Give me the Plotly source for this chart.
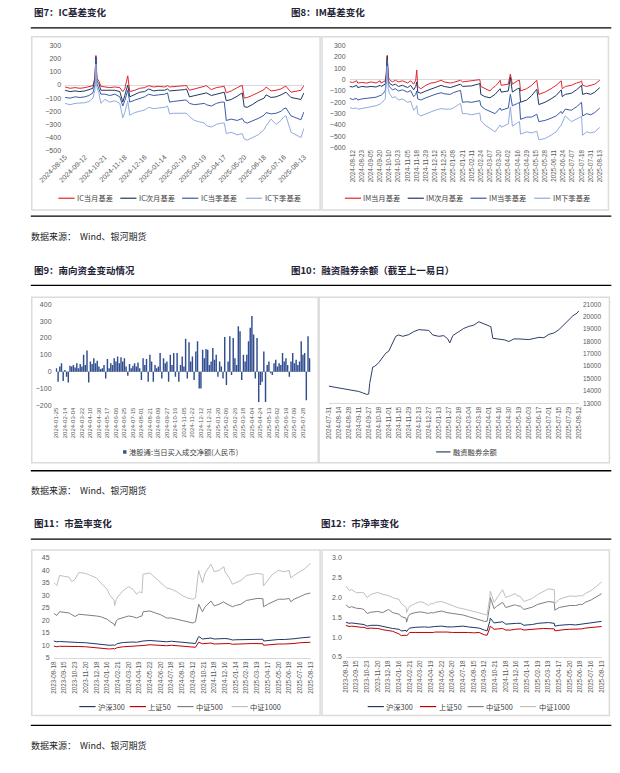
import plotly.graph_objects as go
import pandas as pd
import numpy as np

W, H = 620, 773
def px(x): return x / W
def py(y): return 1 - y / H

# ---------------- data ----------------
# Fig 7: IC basis
ic_dates = ["2024-08-15","2024-08-22","2024-08-29","2024-09-05","2024-09-12","2024-09-20","2024-09-26","2024-09-30","2024-10-08","2024-10-09",
            "2024-10-11","2024-10-15","2024-10-21","2024-10-28","2024-11-04","2024-11-11","2024-11-14","2024-11-18","2024-11-21","2024-11-25",
            "2024-12-02","2024-12-09","2024-12-16","2024-12-20","2024-12-27","2025-01-06","2025-01-14","2025-01-17","2025-01-21","2025-01-27",
            "2025-02-10","2025-02-19","2025-02-21","2025-02-26","2025-03-05","2025-03-12","2025-03-19","2025-03-21","2025-03-28","2025-04-07",
            "2025-04-14","2025-04-17","2025-04-21","2025-04-28","2025-05-09","2025-05-16","2025-05-20","2025-05-23","2025-05-30","2025-06-10",
            "2025-06-18","2025-06-20","2025-06-27","2025-07-04","2025-07-11","2025-07-16","2025-07-18","2025-07-25","2025-08-01","2025-08-08","2025-08-13"]
ic_cur = [-15,-25,-20,-25,-20,-10,-5,60,225,50,
          30,-10,-15,-20,-15,-20,-50,-30,70,-50,
          -40,-25,-20,-5,-15,-10,-15,-5,-15,-10,
          -10,-5,-5,-40,-30,-25,-10,-5,-35,-20,
          -15,-10,-60,-45,-20,-2,-100,-95,-80,-55,
          -35,-15,-45,-40,-30,-15,-10,-55,-45,-40,-5]
ic_next = [-40,-50,-45,-50,-45,-35,-25,40,215,30,
           10,-40,-40,-45,-40,-50,-130,-80,0,-90,
           -70,-55,-50,-30,-45,-40,-40,-30,-45,-40,
           -40,-35,-30,-90,-80,-75,-65,-60,-80,-70,
           -60,-55,-120,-110,-85,-60,-165,-170,-150,-120,
           -100,-75,-95,-90,-75,-60,-55,-95,-100,-110,-60]
ic_q1 = [-95,-100,-90,-95,-90,-80,-60,0,200,10,
         -30,-70,-70,-80,-70,-90,-160,-120,-40,-130,
         -115,-100,-90,-70,-80,-75,-70,-60,-130,-125,
         -120,-115,-115,-140,-150,-145,-140,-150,-160,-140,
         -130,-130,-270,-260,-270,-255,-280,-290,-275,-255,
         -230,-210,-220,-215,-200,-180,-175,-235,-250,-265,-205]
ic_q2 = [-140,-150,-140,-140,-135,-125,-100,-40,160,-20,
         -60,-140,-110,-130,-120,-140,-250,-210,-120,-230,
         -210,-200,-190,-170,-180,-175,-170,-160,-220,-215,
         -215,-210,-215,-240,-270,-280,-290,-310,-320,-300,
         -290,-290,-370,-360,-380,-370,-410,-420,-400,-380,
         -340,-310,-260,-300,-270,-240,-235,-360,-380,-400,-330]
ic_ticks = ["2024-08-15","2024-09-12","2024-10-21","2024-11-18","2024-12-16","2025-01-14","2025-02-19",
            "2025-03-19","2025-04-17","2025-05-20","2025-06-18","2025-07-16","2025-08-13"]
ic_names = ["IC当月基差","IC次月基差","IC当季基差","IC下季基差"]

# Fig 8: IM basis
im_dates = ["2024-08-07","2024-08-12","2024-08-16","2024-08-19","2024-08-23","2024-08-30","2024-09-05","2024-09-12","2024-09-20","2024-09-23",
            "2024-09-27","2024-09-30","2024-10-08","2024-10-09","2024-10-10","2024-10-15","2024-10-18","2024-10-23","2024-10-29","2024-11-05",
            "2024-11-08","2024-11-13","2024-11-15","2024-11-18","2024-11-19","2024-11-22","2024-11-29","2024-12-06","2024-12-12","2024-12-20",
            "2024-12-25","2025-01-03","2025-01-08","2025-01-15","2025-01-17","2025-01-21","2025-01-27","2025-02-11","2025-02-19","2025-02-21",
            "2025-02-24","2025-02-28","2025-03-07","2025-03-12","2025-03-14","2025-03-20","2025-03-21","2025-03-24","2025-04-02","2025-04-07",
            "2025-04-09","2025-04-16","2025-04-18","2025-04-21","2025-04-29","2025-05-09","2025-05-15","2025-05-16","2025-05-20","2025-05-28",
            "2025-06-06","2025-06-13","2025-06-20","2025-06-23","2025-06-26","2025-07-04","2025-07-11","2025-07-17","2025-07-18","2025-07-21",
            "2025-07-25","2025-07-31","2025-08-06","2025-08-13"]
im_cur = [-20,-25,-10,-30,-25,-30,-20,-30,-10,-30,
          -10,50,215,30,0,-20,-5,-20,-10,-30,
          -10,-40,-5,85,-60,-80,-50,-30,-25,-5,
          -20,-30,-25,-15,-5,-20,-15,-15,-5,0,
          -60,-80,-100,-70,-60,-20,-5,-50,-40,50,
          -40,-10,-5,-100,-80,-50,-15,-5,-130,-110,
          -80,-50,-10,-80,-60,-50,-30,-20,-10,-50,
          -60,-50,-40,-5]
im_next = [-60,-65,-50,-70,-60,-65,-60,-65,-50,-60,
           -40,30,205,0,-30,-50,-40,-60,-50,-70,
           -50,-90,-60,-20,-110,-120,-100,-80,-70,-50,
           -60,-70,-60,-45,-40,-60,-55,-55,-40,-35,
           -130,-150,-160,-140,-130,-90,-80,-110,-100,20,
           -110,-80,-75,-200,-180,-140,-90,-85,-220,-200,
           -170,-140,-90,-150,-130,-120,-90,-60,-50,-130,
           -120,-130,-110,-70]
im_q1 = [-165,-175,-165,-180,-170,-165,-160,-155,-140,-140,
         -100,-10,170,-30,-60,-90,-80,-100,-90,-110,
         -95,-150,-130,-100,-170,-180,-160,-140,-130,-115,
         -125,-130,-115,-100,-95,-200,-195,-200,-190,-185,
         -230,-260,-280,-290,-300,-260,-250,-270,-250,-130,
         -230,-210,-200,-350,-330,-330,-310,-305,-370,-360,
         -340,-320,-280,-300,-260,-270,-240,-210,-200,-320,
         -300,-310,-290,-250]
im_q2 = [-245,-255,-250,-260,-255,-245,-240,-230,-215,-210,
         -170,-60,120,-80,-120,-160,-150,-180,-170,-200,
         -190,-270,-250,-230,-300,-320,-300,-280,-270,-255,
         -260,-260,-250,-220,-210,-300,-300,-310,-300,-295,
         -360,-400,-430,-450,-460,-410,-400,-420,-390,-240,
         -410,-380,-370,-480,-460,-470,-460,-455,-530,-520,
         -490,-460,-400,-380,-320,-370,-350,-330,-320,-490,
         -460,-470,-460,-420]
im_ticks = ["2024-08-12","2024-08-23","2024-09-05","2024-09-20","2024-10-10","2024-10-23","2024-11-05","2024-11-18",
            "2024-11-29","2024-12-12","2024-12-25","2025-01-08","2025-01-21","2025-02-11","2025-02-24","2025-03-07",
            "2025-03-20","2025-04-02","2025-04-16","2025-04-29","2025-05-15","2025-05-28","2025-06-11","2025-06-24",
            "2025-07-07","2025-07-18","2025-07-31","2025-08-13"]
im_names = ["IM当月基差","IM次月基差","IM当季基差","IM下季基差"]

# Fig 9: southbound net buy (亿元)
south_vals = [20,-60,30,50,-55,10,-30,-65,35,30,
              40,25,50,20,45,30,100,40,125,-65,
              60,45,80,50,65,30,15,20,40,-40,
              75,20,50,40,80,60,90,50,85,60,
              80,30,-25,45,20,35,50,30,55,20,
              -50,80,40,75,-60,100,60,-60,40,20,
              30,110,-40,80,50,60,-60,100,40,110,
              -30,110,-60,40,90,30,195,-40,175,60,
              90,-50,120,180,-100,-100,130,80,135,130,
              40,60,140,70,100,-30,60,30,-40,205,
              -80,60,210,-20,200,80,40,270,240,-50,
              100,60,100,180,260,330,220,-40,200,-180,
              -80,-60,120,-180,40,60,-10,-20,50,70,
              30,50,40,110,60,80,40,-30,60,110,
              50,70,40,60,180,100,110,-170,210,80]
_bd = pd.bdate_range("2024-01-25", "2025-08-12")
south_dates = [d.strftime("%Y-%m-%d") for d in _bd[np.linspace(0, len(_bd) - 1, len(south_vals)).round().astype(int)]]
south_name = "港股通:当日买入成交净额(人民币)"

# Fig 10: margin balance (亿元)
margin_dates = ["2024-07-31","2024-08-14","2024-08-28","2024-09-11","2024-09-19","2024-09-25","2024-09-27","2024-09-30","2024-10-10","2024-10-14",
                "2024-10-18","2024-10-24","2024-10-29","2024-11-01","2024-11-06","2024-11-12","2024-11-15","2024-11-21","2024-11-29","2024-12-06",
                "2024-12-13","2024-12-20","2024-12-27","2025-01-03","2025-01-13","2025-01-20","2025-01-24","2025-02-05","2025-02-10","2025-02-18",
                "2025-02-25","2025-03-04","2025-03-11","2025-03-18","2025-03-25","2025-04-01","2025-04-03","2025-04-08","2025-04-16","2025-04-24",
                "2025-04-30","2025-05-12","2025-05-19","2025-05-26","2025-06-03","2025-06-11","2025-06-17","2025-06-24","2025-07-01","2025-07-08",
                "2025-07-15","2025-07-21","2025-07-29","2025-08-04","2025-08-08","2025-08-12"]
margin_vals = [14390,14250,14090,13960,13850,13720,13750,14600,15930,15990,
               16280,16730,17050,17210,17670,18410,18520,18410,18550,18790,
               18950,18950,18890,18520,18410,18470,18200,17880,18470,18790,
               19050,19210,19320,19590,19400,19270,19190,18250,18200,18120,
               17990,18200,18200,18150,18150,18250,18330,18300,18570,18680,
               18950,19270,19800,20070,20280,20470]
margin_ticks = ["2024-07-31","2024-08-14","2024-08-28","2024-09-11","2024-09-27","2024-10-18","2024-11-01","2024-11-15",
                "2024-11-29","2024-12-13","2024-12-27","2025-01-13","2025-01-27","2025-02-18","2025-03-04","2025-03-18",
                "2025-04-01","2025-04-16","2025-04-30","2025-05-19","2025-06-03","2025-06-17","2025-07-01","2025-07-15",
                "2025-07-29","2025-08-12"]
margin_name = "融资融券余额"

# Fig 11 / 12: PE and PB
val_dates = ["2023-08-18","2023-08-28","2023-09-04","2023-09-15","2023-09-28","2023-10-13","2023-10-23","2023-11-01","2023-11-20","2023-12-01",
             "2023-12-18","2023-12-28","2024-01-16","2024-01-22","2024-02-02","2024-02-05","2024-02-08","2024-02-21","2024-03-06","2024-03-20",
             "2024-04-01","2024-04-12","2024-04-19","2024-04-26","2024-04-30","2024-05-22","2024-06-05","2024-06-20","2024-07-05","2024-07-18",
             "2024-08-01","2024-08-15","2024-08-29","2024-09-12","2024-09-23","2024-09-30","2024-10-08","2024-10-17","2024-10-24","2024-11-08",
             "2024-11-18","2024-11-29","2024-12-12","2024-12-16","2024-12-26","2025-01-06","2025-01-14","2025-02-05","2025-02-19","2025-03-06",
             "2025-03-19","2025-04-03","2025-04-07","2025-04-17","2025-04-30","2025-05-20","2025-06-05","2025-06-18","2025-06-23","2025-07-01",
             "2025-07-16","2025-07-30","2025-08-13"]
pe_hs300 = [11.8,11.5,11.6,11.5,11.4,11.2,11.0,11.2,11.1,10.9,
            10.6,10.6,10.4,10.1,10.2,10.0,10.5,10.8,11.2,11.4,
            11.4,11.3,11.5,11.6,11.8,12.0,11.8,11.7,11.5,11.7,
            11.5,11.3,11.2,10.9,10.8,13.2,13.6,12.6,12.8,13.0,
            12.6,12.7,12.9,12.8,12.6,12.2,12.3,12.3,12.5,12.6,
            12.6,12.5,11.8,12.0,12.3,12.4,12.4,12.5,12.4,12.7,
            13.0,13.2,13.4]
pe_sz50 = [9.8,9.5,9.7,9.6,9.6,9.5,9.4,9.6,9.5,9.3,
           9.0,9.0,8.8,8.6,8.8,8.6,9.0,9.2,9.5,9.6,
           9.6,9.6,9.8,9.9,10.0,10.3,10.1,10.0,9.9,10.1,
           9.9,9.8,9.7,9.4,9.3,11.0,11.3,10.7,10.8,11.0,
           10.6,10.7,10.9,10.8,10.8,10.5,10.6,10.5,10.7,10.8,
           10.8,10.7,10.1,10.3,10.5,10.6,10.6,10.7,10.6,10.8,
           11.1,11.2,11.3]
pe_zz500 = [22.9,22.0,23.5,23.2,23.0,22.3,21.6,22.5,22.3,22.0,
            21.8,21.5,20.5,19.8,18.5,17.8,19.8,20.5,21.2,21.8,
            21.5,21.0,21.5,21.8,23.5,23.8,23.0,22.3,21.0,21.0,
            20.5,20.0,19.5,19.0,19.5,25.5,26.5,23.5,25.5,27.8,
            25.8,26.5,27.5,27.0,26.0,25.5,26.0,26.5,28.0,28.5,
            28.8,28.7,25.5,26.5,27.5,28.5,28.5,28.8,27.5,28.5,
            29.5,30.5,31.0]
pe_zz1000 = [35.3,34.0,38.0,37.5,37.3,35.5,36.5,39.2,38.8,38.0,
             37.0,35.0,32.5,30.5,28.0,26.0,28.5,29.5,32.0,33.5,
             32.5,30.5,31.5,31.0,38.5,39.0,37.0,35.0,33.0,32.5,
             31.5,30.0,29.0,28.5,29.0,38.5,40.0,35.0,39.0,42.5,
             39.5,40.0,41.5,39.5,37.0,34.5,35.0,36.0,38.0,38.5,
             38.8,38.5,33.8,36.0,38.5,40.0,39.5,40.0,37.0,38.0,
             39.5,40.8,43.0]
pb_hs300 = [1.38,1.35,1.36,1.34,1.33,1.32,1.28,1.30,1.30,1.27,
            1.23,1.22,1.20,1.16,1.17,1.14,1.20,1.23,1.25,1.26,
            1.26,1.25,1.26,1.26,1.27,1.28,1.26,1.26,1.27,1.28,
            1.26,1.24,1.23,1.18,1.16,1.40,1.48,1.36,1.37,1.39,
            1.33,1.34,1.36,1.35,1.35,1.30,1.31,1.32,1.35,1.36,
            1.37,1.35,1.28,1.30,1.31,1.32,1.31,1.33,1.33,1.35,
            1.37,1.39,1.40]
pb_sz50 = [1.30,1.27,1.28,1.26,1.25,1.25,1.22,1.23,1.22,1.19,
           1.16,1.15,1.08,1.04,1.05,1.03,1.08,1.12,1.12,1.12,
           1.12,1.11,1.12,1.12,1.13,1.14,1.13,1.12,1.12,1.13,
           1.12,1.11,1.12,1.06,1.05,1.23,1.28,1.20,1.21,1.22,
           1.18,1.18,1.20,1.20,1.21,1.18,1.19,1.20,1.21,1.22,
           1.22,1.21,1.16,1.18,1.19,1.20,1.20,1.21,1.21,1.23,
           1.24,1.25,1.27]
pb_zz500 = [1.82,1.75,1.77,1.73,1.72,1.70,1.60,1.63,1.65,1.62,
            1.70,1.62,1.58,1.52,1.48,1.38,1.52,1.58,1.62,1.64,
            1.62,1.60,1.62,1.61,1.63,1.66,1.62,1.60,1.56,1.56,
            1.52,1.48,1.45,1.40,1.40,1.80,2.00,1.72,1.78,1.88,
            1.75,1.78,1.82,1.80,1.78,1.70,1.72,1.76,1.83,1.86,
            1.90,1.88,1.68,1.75,1.78,1.80,1.80,1.83,1.82,1.88,
            1.94,2.02,2.10]
pb_zz1000 = [2.30,2.18,2.20,2.12,2.13,2.12,2.00,2.08,2.13,2.08,
             2.05,2.00,1.95,1.85,1.75,1.62,1.72,1.78,1.85,1.90,
             1.86,1.80,1.85,1.84,1.88,1.90,1.85,1.80,1.74,1.72,
             1.68,1.65,1.62,1.57,1.56,2.00,2.16,1.88,1.98,2.20,
             2.00,2.05,2.10,2.06,2.02,1.90,1.93,1.98,2.08,2.15,
             2.22,2.20,1.85,1.95,2.00,2.04,2.03,2.05,2.04,2.10,
             2.18,2.28,2.40]
val_ticks = ["2023-08-18","2023-09-15","2023-10-23","2023-11-20","2023-12-18","2024-01-16","2024-02-21","2024-03-20",
             "2024-04-19","2024-05-22","2024-06-20","2024-07-18","2024-08-15","2024-09-12","2024-10-21","2024-11-18",
             "2024-12-16","2025-01-14","2025-02-19","2025-03-19","2025-04-17","2025-05-20","2025-06-18","2025-07-16","2025-08-13"]
val_names = ["沪深300","上证50","中证500","中证1000"]

# exchange holidays (weekdays without trading) for the trading-day axes
holidays = ["2023-09-29","2023-10-02","2023-10-03","2023-10-04","2023-10-05","2023-10-06",
            "2024-01-01","2024-02-09","2024-02-12","2024-02-13","2024-02-14","2024-02-15","2024-02-16",
            "2024-04-04","2024-04-05","2024-05-01","2024-05-02","2024-05-03","2024-06-10",
            "2024-09-16","2024-09-17","2024-10-01","2024-10-02","2024-10-03","2024-10-04","2024-10-07",
            "2025-01-01","2025-01-28","2025-01-29","2025-01-30","2025-01-31","2025-02-03","2025-02-04",
            "2025-04-04","2025-05-01","2025-05-02","2025-05-05","2025-06-02"]

# ---------------- styles ----------------
basis_colors = ["#E3262E", "#1F3864", "#3A5CA6", "#90ABDD"]
val_colors = ["#1F3864", "#C00000", "#7F7F7F", "#BFBFBF"]
bar_color = "#2F4D8F"
margin_color = "#2E3E6B"
TICK = dict(family="Liberation Sans, Arial, sans-serif", size=7, color="#595959")
CJK = "Noto Sans CJK SC, Liberation Sans, sans-serif"
rb = [dict(bounds=["sat", "mon"]), dict(values=holidays)]

fig = go.Figure()

def add_lines(dates, series, names, colors, ax):
    for vals, nm, c in zip(series, names, colors):
        fig.add_trace(go.Scatter(x=dates, y=vals, name=nm, mode="lines",
                                 line=dict(color=c, width=1), xaxis="x" + ax, yaxis="y" + ax,
                                 showlegend=False, hoverinfo="skip"))

add_lines(ic_dates, [ic_cur, ic_next, ic_q1, ic_q2], ic_names, basis_colors, "")
add_lines(im_dates, [im_cur, im_next, im_q1, im_q2], im_names, basis_colors, "2")
fig.add_trace(go.Bar(x=south_dates, y=south_vals, name=south_name, marker=dict(color=bar_color, line=dict(width=0)),
                     xaxis="x3", yaxis="y3", showlegend=False, hoverinfo="skip"))
add_lines(margin_dates, [margin_vals], [margin_name], [margin_color], "4")
add_lines(val_dates, [pe_hs300, pe_sz50, pe_zz500, pe_zz1000], val_names, val_colors, "5")
add_lines(val_dates, [pb_hs300, pb_sz50, pb_zz500, pb_zz1000], val_names, val_colors, "6")

def xdate(x0, x1, y_anchor, rng, ticks, angle, size=7, line=False):
    return dict(domain=[px(x0), px(x1)], anchor=y_anchor, type="date", range=rng, rangebreaks=rb,
                tickmode="array", tickvals=ticks, ticktext=ticks, tickangle=angle,
                tickfont=dict(TICK, size=size), showgrid=False, zeroline=False,
                showline=line, linecolor="#D9D9D9", linewidth=1, ticks="", fixedrange=True)

def yax(y0, y1, x_anchor, rng, dtick, zero=False, side="left", fmt=None, size=7):
    d = dict(domain=[py(y1), py(y0)], anchor=x_anchor, range=rng, dtick=dtick, side=side,
             tickfont=dict(TICK, size=size), showgrid=False, zeroline=zero, zerolinecolor="#D9D9D9",
             zerolinewidth=1, showline=False, ticks="", ticklabelstandoff=3, fixedrange=True)
    if fmt:
        d["tickformat"] = fmt
    return d

fig.update_layout(
    width=W, height=H, margin=dict(l=0, r=0, t=0, b=0),
    paper_bgcolor="white", plot_bgcolor="white", showlegend=False, bargap=0.15,
    xaxis=xdate(40, 291, "y", ["2024-08-15", "2025-08-13"], ic_ticks, -45, 7),
    yaxis=yax(42, 148, "x", [-500, 300], 100, zero=True),
    xaxis2=xdate(339, 602, "y2", ["2024-08-07", "2025-08-13"], im_ticks, -90, 6.3),
    yaxis2=yax(42, 145, "x2", [-600, 300], 100, zero=True),
    xaxis3=dict(domain=[px(30), px(298)], anchor="y3", type="category", tickmode="array",
                tickvals=south_dates[::5], tickangle=-90, tickfont=dict(TICK, size=6),
                showgrid=False, showline=False, ticks="", fixedrange=True),
    yaxis3=yax(303, 405, "x3", [-200, 400], 100, zero=True),
    xaxis4=xdate(317, 580, "y4", ["2024-07-31", "2025-08-12"], margin_ticks, -90, 6.3, line=True),
    yaxis4=yax(303, 403, "x4", [13000, 21000], 1000, side="right", fmt="d", size=6.5),
    xaxis5=xdate(28, 298, "y5", ["2023-08-18", "2025-08-13"], val_ticks, -90, 6.3, line=True),
    yaxis5=yax(559, 660, "x5", [5, 45], 5),
    xaxis6=xdate(335, 604, "y6", ["2023-08-18", "2025-08-13"], val_ticks, -90, 6.3, line=True),
    yaxis6=yax(559, 659, "x6", [0.5, 3.0], 0.5, fmt=".1f"),
)

shapes = []
annotations = []

def hline(x0, x1, y, color="black", width=1.3):
    shapes.append(dict(type="line", xref="paper", yref="paper", x0=px(x0), x1=px(x1), y0=py(y), y1=py(y),
                       line=dict(color=color, width=width)))

def box(x0, y0, x1, y1):
    shapes.append(dict(type="rect", xref="paper", yref="paper", x0=px(x0), x1=px(x1), y0=py(y1), y1=py(y0),
                       line=dict(color="#DCDCDC", width=1.5), layer="below"))

def text(x, y, s, size=9, bold=False, color="#1E2235", anchor="left", family=CJK):
    annotations.append(dict(xref="paper", yref="paper", x=px(x), y=py(y), text=("<b>%s</b>" % s) if bold else s,
                            showarrow=False, xanchor=anchor, yanchor="middle",
                            font=dict(family=family, size=size, color=color)))

def legend_lines(xs, y, names, colors, seg=17):
    for x0, nm, c in zip(xs, names, colors):
        shapes.append(dict(type="line", xref="paper", yref="paper", x0=px(x0), x1=px(x0 + seg), y0=py(y), y1=py(y),
                           line=dict(color=c, width=1.2)))
        text(x0 + seg + 0.5, y, nm, size=7.3, color="#404040")

# titles, rules and sources
text(5, 8.5, "图7：IC基差变化", size=9.5, bold=True)
text(275, 8.5, "图8：IM基差变化", size=9.5, bold=True)
text(5, 268, "图9：南向资金变动情况", size=9.5, bold=True)
text(275, 268, "图10：融资融券余额（截至上一易日）", size=9.5, bold=True)
text(5, 524, "图11：市盈率变化", size=9.5, bold=True)
text(307, 524, "图12：市净率变化", size=9.5, bold=True)
for y in (24, 214, 284, 471, 540, 728):
    hline(4, 614, y)
for y in (235, 491, 748):
    text(2, y, "数据来源：  Wind、银河期货", size=9, color="#222222")

# chart frames
box(5, 33, 308, 208)
box(310, 33, 611, 208)
box(5, 296, 306, 463)
box(307, 296, 612, 463)
box(5, 551, 308, 718)
box(310, 551, 612, 718)

# legends
legend_lines([33, 98, 163, 230], 196, ic_names, basis_colors)
legend_lines([334, 400, 466, 533], 196, im_names, basis_colors)
shapes.append(dict(type="rect", xref="paper", yref="paper", x0=px(101), x1=px(104.5), y0=py(453.8), y1=py(450.3),
                   fillcolor=bar_color, line=dict(width=0)))
text(105, 452, south_name, size=7.3, color="#404040")
legend_lines([430], 452, [margin_name], [margin_color], seg=15)
legend_lines([55, 108, 158, 215], 709, val_names, val_colors)
legend_lines([358, 413, 463, 518], 709, val_names, val_colors)

fig.update_layout(shapes=shapes, annotations=annotations)
fig.write_html("out.html", config={"displayModeBar": False, "staticPlot": True},
               post_script="document.body.style.margin='0';")
